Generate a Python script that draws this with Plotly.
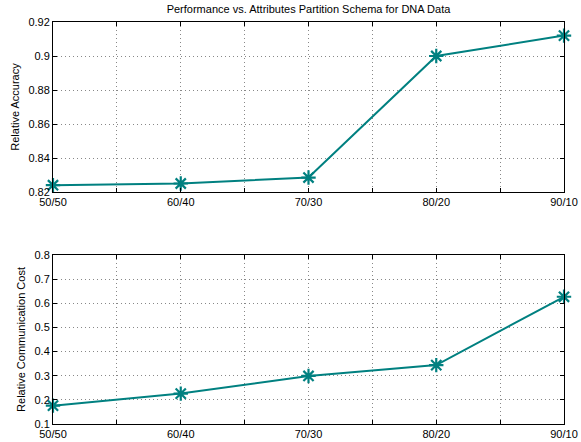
import plotly.graph_objects as go
from plotly.subplots import make_subplots

categories = ["50/50", "60/40", "70/30", "80/20", "90/10"]
x_pos = [50, 60, 70, 80, 90]
accuracy = [0.824, 0.825, 0.8285, 0.900, 0.912]
comm_cost = [0.176, 0.226, 0.299, 0.344, 0.627]

color = "#008080"
fig = make_subplots(rows=2, cols=1, vertical_spacing=0.0)

marker = dict(symbol="asterisk-open", size=12, line=dict(color=color, width=2.2))
fig.add_trace(go.Scatter(x=x_pos, y=accuracy, mode="lines+markers",
                         line=dict(color=color, width=2), marker=marker,
                         cliponaxis=False, showlegend=False), row=1, col=1)
fig.add_trace(go.Scatter(x=x_pos, y=comm_cost, mode="lines+markers",
                         line=dict(color=color, width=2), marker=marker,
                         cliponaxis=False, showlegend=False), row=2, col=1)

tickvals = [50, 55, 60, 65, 70, 75, 80, 85, 90]
ticktext = [categories[x_pos.index(v)] if v in x_pos else "" for v in tickvals]

axis_common = dict(showline=True, linecolor="black", linewidth=1, mirror="ticks",
                   ticks="inside", ticklen=4, tickcolor="black",
                   showgrid=True, gridcolor="#888888", griddash="1px,3px", gridwidth=1,
                   zeroline=False, automargin=False, tickfont=dict(size=11, color="black"))

fig.update_xaxes(range=[50, 90], tickvals=tickvals, ticktext=ticktext, **axis_common)
fig.update_yaxes(**axis_common)
fig.update_yaxes(range=[0.82, 0.92], dtick=0.02,
                 title=dict(text="Relative Accuracy", font=dict(size=11, color="black"), standoff=6),
                 row=1, col=1)
fig.update_yaxes(range=[0.1, 0.8], dtick=0.1,
                 title=dict(text="Relative Communication Cost", font=dict(size=11, color="black"), standoff=6),
                 row=2, col=1)

W, H = 581, 442
ml, mr, mt, mb = 53, W - 564, 22, H - 424
ph = H - mt - mb
fig.update_layout(
    width=W, height=H,
    margin=dict(l=ml, r=mr, t=mt, b=mb),
    paper_bgcolor="white", plot_bgcolor="white",
    font=dict(family="Liberation Sans, Arial, sans-serif", size=11, color="black"),
    title=dict(text="Performance vs. Attributes Partition Schema for DNA Data",
               x=(53 + 564) / 2 / W, xanchor="center", y=1 - 9 / H, yanchor="middle",
               font=dict(size=11, color="black")),
)
fig.update_xaxes(domain=[0, 1])
fig.update_layout(
    yaxis=dict(domain=[1 - (192 - mt) / ph, 1]),
    yaxis2=dict(domain=[0, (424 - 255) / ph]),
)

fig.write_html("out.html", config={"displayModeBar": False},
               post_script="document.body.style.margin='0';document.body.style.overflow='hidden';")
